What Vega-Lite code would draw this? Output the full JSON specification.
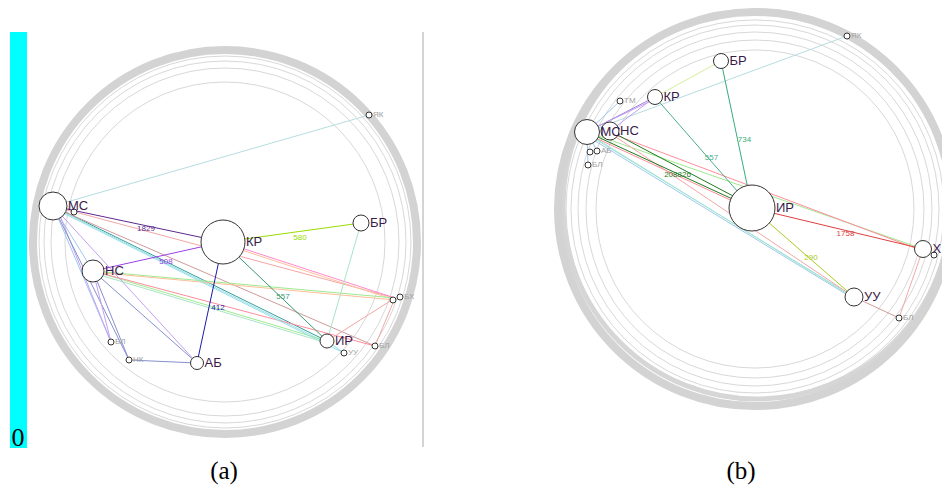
{
  "$schema": "https://vega.github.io/schema/vega-lite/v6.json",
  "width": 942,
  "height": 490,
  "padding": 0,
  "autosize": {"type": "none"},
  "background": "white",
  "config": {"view": {"stroke": null}},
  "datasets": {
    "bar": [{"x": 10, "x2": 27, "y": 32, "y2": 448}],
    "sep": [{"x": 423, "y": 32, "y2": 447}],
    "texts": [
      {"x": 18, "y": 438, "t": "0", "k": "zero"},
      {"x": 224, "y": 471, "t": "(a)", "k": "cap"},
      {"x": 741, "y": 471, "t": "(b)", "k": "cap"}
    ],
    "rings": [
      {"cx": 225, "cy": 242, "r": 192, "k": "band"},
      {"cx": 225, "cy": 242, "r": 186, "k": "thin"},
      {"cx": 225, "cy": 242, "r": 181, "k": "thin"},
      {"cx": 225, "cy": 242, "r": 174, "k": "thin"},
      {"cx": 225, "cy": 242, "r": 160, "k": "thin"},
      {"cx": 755, "cy": 209, "r": 197, "k": "band"},
      {"cx": 757, "cy": 205, "r": 194, "k": "band2"},
      {"cx": 755, "cy": 209, "r": 189, "k": "thin"},
      {"cx": 755, "cy": 209, "r": 184, "k": "thin"},
      {"cx": 755, "cy": 209, "r": 177, "k": "thin"},
      {"cx": 755, "cy": 209, "r": 169, "k": "thin"},
      {"cx": 755, "cy": 209, "r": 159, "k": "thin"}
    ],
    "nodes": [
      {"x": 53, "y": 206, "r": 14, "lab": "МС", "k": "main"},
      {"x": 74, "y": 212, "r": 3, "lab": "", "k": "minor"},
      {"x": 223, "y": 242, "r": 22, "lab": "КР", "k": "main"},
      {"x": 361, "y": 223, "r": 8, "lab": "БР", "k": "main"},
      {"x": 93, "y": 271, "r": 11, "lab": "НС", "k": "main"},
      {"x": 111, "y": 342, "r": 3, "lab": "БЛ", "k": "minor"},
      {"x": 129, "y": 360, "r": 3, "lab": "НК", "k": "minor"},
      {"x": 197, "y": 363, "r": 6.5, "lab": "АБ", "k": "main"},
      {"x": 327, "y": 341, "r": 7, "lab": "ИР", "k": "main"},
      {"x": 344, "y": 353, "r": 3, "lab": "УУ", "k": "minor"},
      {"x": 375, "y": 346, "r": 3, "lab": "БЛ", "k": "minor"},
      {"x": 393, "y": 300, "r": 3, "lab": "", "k": "minor"},
      {"x": 400, "y": 297, "r": 3, "lab": "БХ", "k": "minor"},
      {"x": 369, "y": 115, "r": 3, "lab": "ЯК", "k": "minor"},
      {"x": 752, "y": 208, "r": 23, "lab": "ИР", "k": "main"},
      {"x": 587, "y": 132, "r": 12.5, "lab": "МС", "k": "main"},
      {"x": 610, "y": 131, "r": 9, "lab": "НС", "k": "main"},
      {"x": 655, "y": 97, "r": 7.5, "lab": "КР", "k": "main"},
      {"x": 620, "y": 101, "r": 3, "lab": "ТМ", "k": "minor"},
      {"x": 590, "y": 152, "r": 3, "lab": "", "k": "minor"},
      {"x": 597, "y": 151, "r": 3, "lab": "АБ", "k": "minor"},
      {"x": 588, "y": 165, "r": 3, "lab": "БЛ", "k": "minor"},
      {"x": 721, "y": 61, "r": 7.5, "lab": "БР", "k": "main"},
      {"x": 847, "y": 36, "r": 3, "lab": "ЯК", "k": "minor"},
      {"x": 923, "y": 249, "r": 8.5, "lab": "Х", "k": "main"},
      {"x": 934, "y": 255, "r": 3, "lab": "", "k": "minor"},
      {"x": 854, "y": 297, "r": 9, "lab": "УУ", "k": "main"},
      {"x": 899, "y": 318, "r": 3, "lab": "БЛ", "k": "minor"}
    ],
    "edges": [
      {"x": 53, "y": 206, "x2": 369, "y2": 115, "g": "c01"},
      {"x": 53, "y": 206, "x2": 327, "y2": 341, "g": "c08"},
      {"x": 55, "y": 208, "x2": 327, "y2": 343, "g": "c18"},
      {"x": 53, "y": 206, "x2": 395, "y2": 298, "g": "c09"},
      {"x": 53, "y": 207, "x2": 375, "y2": 346, "g": "c17"},
      {"x": 223, "y": 242, "x2": 395, "y2": 298, "g": "c10"},
      {"x": 223, "y": 244, "x2": 395, "y2": 300, "g": "c11"},
      {"x": 93, "y": 271, "x2": 395, "y2": 298, "g": "c12"},
      {"x": 93, "y": 272, "x2": 395, "y2": 300, "g": "c11"},
      {"x": 93, "y": 271, "x2": 327, "y2": 341, "g": "c12"},
      {"x": 93, "y": 273, "x2": 327, "y2": 343, "g": "c07"},
      {"x": 93, "y": 271, "x2": 375, "y2": 346, "g": "c13"},
      {"x": 53, "y": 208, "x2": 344, "y2": 353, "g": "c18"},
      {"x": 53, "y": 206, "x2": 93, "y2": 271, "g": "c14"},
      {"x": 53, "y": 206, "x2": 111, "y2": 342, "g": "c14"},
      {"x": 56, "y": 206, "x2": 111, "y2": 342, "g": "c15"},
      {"x": 53, "y": 206, "x2": 129, "y2": 360, "g": "c16"},
      {"x": 53, "y": 206, "x2": 197, "y2": 363, "g": "c15"},
      {"x": 93, "y": 271, "x2": 197, "y2": 363, "g": "c16"},
      {"x": 93, "y": 271, "x2": 129, "y2": 360, "g": "c16"},
      {"x": 129, "y": 360, "x2": 197, "y2": 363, "g": "c16"},
      {"x": 93, "y": 271, "x2": 111, "y2": 342, "g": "c15"},
      {"x": 327, "y": 341, "x2": 395, "y2": 298, "g": "c09"},
      {"x": 375, "y": 346, "x2": 395, "y2": 298, "g": "c09"},
      {"x": 327, "y": 341, "x2": 344, "y2": 353, "g": "c18"},
      {"x": 361, "y": 223, "x2": 327, "y2": 341, "g": "c07"},
      {"x": 53, "y": 206, "x2": 223, "y2": 242, "g": "c02", "lab": "1829"},
      {"x": 93, "y": 271, "x2": 223, "y2": 242, "g": "c03", "lab": "508"},
      {"x": 223, "y": 242, "x2": 197, "y2": 363, "g": "c04", "lab": "412"},
      {"x": 223, "y": 242, "x2": 361, "y2": 223, "g": "c05", "lab": "580"},
      {"x": 223, "y": 242, "x2": 327, "y2": 341, "g": "c06", "lab": "557"},

      {"x": 587, "y": 132, "x2": 847, "y2": 36, "g": "c01"},
      {"x": 655, "y": 97, "x2": 721, "y2": 61, "g": "c22"},
      {"x": 587, "y": 132, "x2": 923, "y2": 249, "g": "c12"},
      {"x": 610, "y": 133, "x2": 923, "y2": 251, "g": "c13"},
      {"x": 587, "y": 134, "x2": 854, "y2": 297, "g": "c18"},
      {"x": 587, "y": 136, "x2": 854, "y2": 299, "g": "c14"},
      {"x": 610, "y": 133, "x2": 854, "y2": 297, "g": "c09"},
      {"x": 587, "y": 133, "x2": 854, "y2": 298, "g": "c07"},
      {"x": 587, "y": 134, "x2": 752, "y2": 210, "g": "c13"},
      {"x": 854, "y": 297, "x2": 899, "y2": 318, "g": "c17"},
      {"x": 923, "y": 249, "x2": 899, "y2": 318, "g": "c09"},
      {"x": 587, "y": 132, "x2": 655, "y2": 97, "g": "c25"},
      {"x": 610, "y": 131, "x2": 655, "y2": 97, "g": "c15"},
      {"x": 590, "y": 130, "x2": 655, "y2": 99, "g": "c15"},
      {"x": 587, "y": 132, "x2": 620, "y2": 101, "g": "c14"},
      {"x": 587, "y": 132, "x2": 597, "y2": 151, "g": "c14"},
      {"x": 587, "y": 132, "x2": 588, "y2": 165, "g": "c14"},
      {"x": 610, "y": 131, "x2": 752, "y2": 206, "g": "c19"},
      {"x": 721, "y": 61, "x2": 752, "y2": 208, "g": "c23", "lab": "734"},
      {"x": 655, "y": 97, "x2": 752, "y2": 208, "g": "c24", "lab": "557"},
      {"x": 587, "y": 132, "x2": 752, "y2": 208, "g": "c19", "lab": "208826"},
      {"x": 752, "y": 208, "x2": 923, "y2": 249, "g": "c20", "lab": "1758"},
      {"x": 752, "y": 208, "x2": 854, "y2": 297, "g": "c21", "lab": "290"}
    ]
  },
  "encoding": {
    "x": {"type": "quantitative", "scale": {"domain": [0, 942], "nice": false, "zero": false}, "axis": null},
    "y": {"type": "quantitative", "scale": {"domain": [0, 490], "nice": false, "zero": false, "reverse": true}, "axis": null}
  },
  "layer": [
    {
      "data": {"name": "bar"},
      "mark": {"type": "rect", "color": "#00ffff"},
      "encoding": {"x": {"field": "x", "type": "quantitative"}, "x2": {"field": "x2"}, "y": {"field": "y", "type": "quantitative"}, "y2": {"field": "y2"}}
    },
    {
      "data": {"name": "sep"},
      "mark": {"type": "rule", "color": "#aaaaaa", "strokeWidth": 1},
      "encoding": {"x": {"field": "x", "type": "quantitative"}, "y": {"field": "y", "type": "quantitative"}, "y2": {"field": "y2"}}
    },
    {
      "data": {"name": "rings"},
      "transform": [{"filter": "datum.k === 'thin'"}],
      "mark": {"type": "point", "shape": "circle", "filled": false, "stroke": "#d8d8d8", "strokeWidth": 1, "opacity": 1},
      "encoding": {
        "x": {"field": "cx", "type": "quantitative"},
        "y": {"field": "cy", "type": "quantitative"},
        "size": {"field": "r", "type": "quantitative", "scale": {"type": "pow", "exponent": 2, "domain": [0, 210], "range": [0, 176400]}, "legend": null}
      }
    },
    {
      "data": {"name": "rings"},
      "transform": [{"filter": "datum.k === 'band2'"}],
      "mark": {"type": "point", "shape": "circle", "filled": false, "stroke": "#d6d6d6", "strokeWidth": 5, "opacity": 1},
      "encoding": {
        "x": {"field": "cx", "type": "quantitative"},
        "y": {"field": "cy", "type": "quantitative"},
        "size": {"field": "r", "type": "quantitative", "legend": null}
      }
    },
    {
      "data": {"name": "rings"},
      "transform": [{"filter": "datum.k === 'band'"}],
      "mark": {"type": "point", "shape": "circle", "filled": false, "stroke": "#d3d3d3", "strokeWidth": 8, "opacity": 1},
      "encoding": {
        "x": {"field": "cx", "type": "quantitative"},
        "y": {"field": "cy", "type": "quantitative"},
        "size": {"field": "r", "type": "quantitative", "legend": null}
      }
    },
    {
      "data": {"name": "edges"},
      "mark": {"type": "rule", "strokeWidth": 1},
      "encoding": {
        "x": {"field": "x", "type": "quantitative"},
        "y": {"field": "y", "type": "quantitative"},
        "x2": {"field": "x2"},
        "y2": {"field": "y2"},
        "color": {"field": "g", "type": "nominal", "legend": null,
          "scale": {
            "domain": ["c01","c02","c03","c04","c05","c06","c07","c08","c09","c10","c11","c12","c13","c14","c15","c16","c17","c18","c19","c20","c21","c22","c23","c24","c25"],
            "range": ["#b5dce0","#5b2a8e","#9a40e8","#1a1aa8","#99dd00","#3a9a72","#a8e4c8","#3a9c94","#f4a6a6","#ff88cc","#ffbf99","#9eea8e","#ff8c9c","#9cc8ee","#c3a0f0","#8890cc","#d09a9a","#96dfe8","#1f7a1f","#dd4040","#a8cc22","#d5ee9e","#36ad7a","#4aaf8c","#a080d8"]
          }
        }
      }
    },
    {
      "data": {"name": "edges"},
      "transform": [
        {"filter": "datum.lab"},
        {"calculate": "(datum.x + datum.x2) / 2", "as": "mx"},
        {"calculate": "(datum.y + datum.y2) / 2", "as": "my"}
      ],
      "mark": {"type": "text", "fontSize": 8, "font": "Liberation Sans", "dx": 8, "dy": 5, "align": "center", "baseline": "middle"},
      "encoding": {
        "x": {"field": "mx", "type": "quantitative"},
        "y": {"field": "my", "type": "quantitative"},
        "text": {"field": "lab"},
        "color": {"field": "g", "type": "nominal", "legend": null}
      }
    },
    {
      "data": {"name": "nodes"},
      "mark": {"type": "point", "shape": "circle", "filled": true, "fill": "white", "stroke": "#333333", "strokeWidth": 1, "opacity": 1},
      "encoding": {
        "x": {"field": "x", "type": "quantitative"},
        "y": {"field": "y", "type": "quantitative"},
        "size": {"field": "r", "type": "quantitative", "legend": null}
      }
    },
    {
      "data": {"name": "nodes"},
      "transform": [{"filter": "datum.k === 'main'"}, {"calculate": "datum.x + datum.r + 1", "as": "lx"}],
      "mark": {"type": "text", "fontSize": 13, "font": "Liberation Sans", "align": "left", "baseline": "middle", "color": "#3a1a4a"},
      "encoding": {
        "x": {"field": "lx", "type": "quantitative"},
        "y": {"field": "y", "type": "quantitative"},
        "text": {"field": "lab"}
      }
    },
    {
      "data": {"name": "nodes"},
      "transform": [{"filter": "datum.k === 'minor'"}, {"calculate": "datum.x + datum.r + 1", "as": "lx"}],
      "mark": {"type": "text", "fontSize": 8, "font": "Liberation Sans", "align": "left", "baseline": "middle", "color": "#a0a0a0"},
      "encoding": {
        "x": {"field": "lx", "type": "quantitative"},
        "y": {"field": "y", "type": "quantitative"},
        "text": {"field": "lab"}
      }
    },
    {
      "data": {"name": "texts"},
      "transform": [{"filter": "datum.k === 'zero'"}],
      "mark": {"type": "text", "fontSize": 26, "font": "Liberation Serif", "align": "center", "baseline": "middle", "color": "#000000"},
      "encoding": {"x": {"field": "x", "type": "quantitative"}, "y": {"field": "y", "type": "quantitative"}, "text": {"field": "t"}}
    },
    {
      "data": {"name": "texts"},
      "transform": [{"filter": "datum.k === 'cap'"}],
      "mark": {"type": "text", "fontSize": 25, "font": "Liberation Serif", "align": "center", "baseline": "middle", "color": "#000000"},
      "encoding": {"x": {"field": "x", "type": "quantitative"}, "y": {"field": "y", "type": "quantitative"}, "text": {"field": "t"}}
    }
  ]
}
